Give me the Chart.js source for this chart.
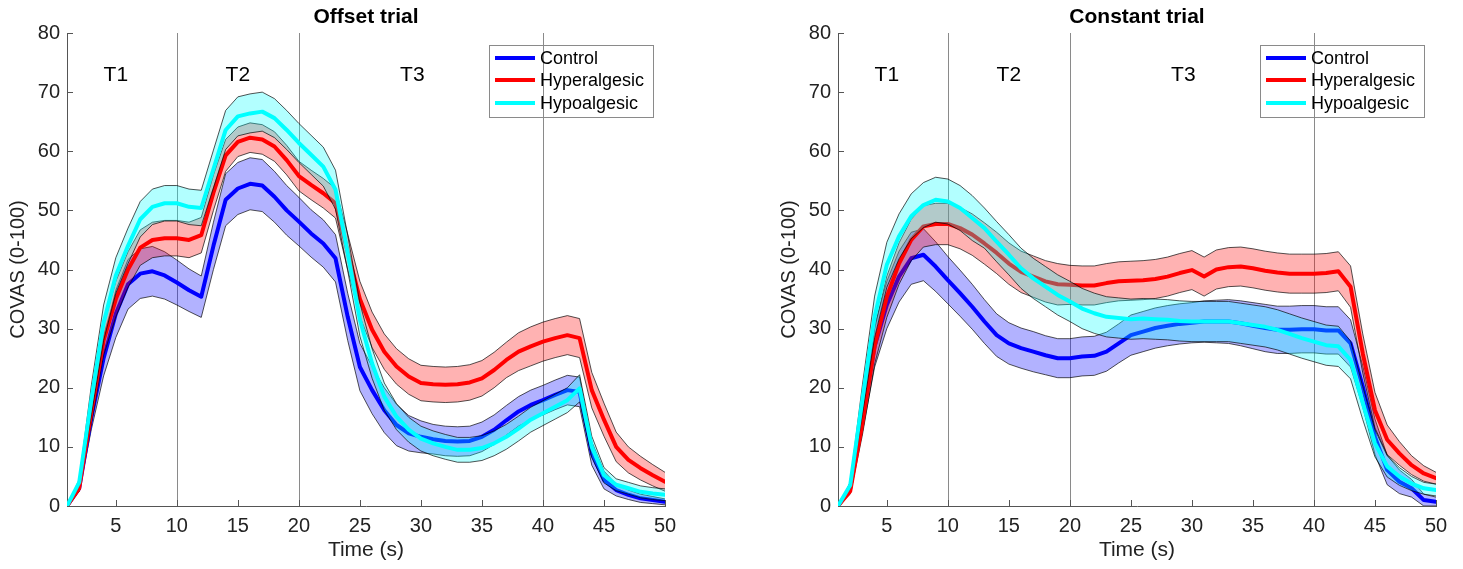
<!DOCTYPE html>
<html>
<head>
<meta charset="utf-8">
<script src="https://cdn.jsdelivr.net/npm/chart.js@4.4.1/dist/chart.umd.min.js"></script>
<style>
  html, body { margin: 0; padding: 0; background: #fff; }
  #wrap { position: relative; width: 1463px; height: 569px; overflow: hidden; }
  .panel { position: absolute; top: 0; }
</style>
</head>
<body>
<div id="wrap">
  <div class="panel" style="left:0px"><canvas id="offset-chart" width="720" height="569"></canvas></div>
  <div class="panel" style="left:771px"><canvas id="constant-chart" width="692" height="569"></canvas></div>
</div>
<script>
const FONT = "'Liberation Sans', Arial, Helvetica, sans-serif";

// Time axis (s) and tick labels
const times = [1, 2, 3, 4, 5, 6, 7, 8, 9, 10, 11, 12, 13, 14, 15, 16, 17, 18, 19, 20,
  21, 22, 23, 24, 25, 26, 27, 28, 29, 30, 31, 32, 33, 34, 35, 36, 37, 38, 39, 40,
  41, 42, 43, 44, 45, 46, 47, 48, 49, 50];
const xTicks = [5, 10, 15, 20, 25, 30, 35, 40, 45, 50];

// Phase boundaries and labels
const phaseLines = [10, 20, 40];
const phaseNames = ['T1', 'T2', 'T3'];
const phaseLabelX = [5, 15, 29.3];

const groupNames = ['Control', 'Hyperalgesic', 'Hypoalgesic'];
const groupColors = ['#0000ff', '#ff0000', '#00ffff'];
const bandColors = ['rgba(0,0,255,0.3)', 'rgba(255,0,0,0.3)', 'rgba(0,255,255,0.3)'];

// Offset trial: group means and SEM half-widths
const offsetControl = [0, 3, 15, 25, 32.5, 37.5, 39.3, 39.7, 39, 37.8, 36.5, 35.4, 44, 51.8, 53.7, 54.5, 54.2, 52.3, 50, 48.1,
  46.1, 44.4, 41.9, 32, 23.5, 19.6, 16.2, 13.7, 12.3, 11.7, 11.3, 11, 10.9, 11, 11.7, 12.9, 14.5, 16, 17.1, 17.9,
  18.8, 19.6, 19.3, 8.9, 4.4, 2.7, 1.9, 1.3, 1.0, 0.7];
const offsetControlSem = [0, 0.5, 2, 3, 4, 4.2, 4.2, 4.2, 4, 3.8, 3.6, 3.5, 4, 4.4, 4.4, 4.4, 4.4, 4.3, 4.2, 4.1,
  4, 4, 4, 4, 4, 4, 3.8, 3.5, 3, 2.7, 2.5, 2.5, 2.5, 2.5, 2.5, 2.5, 2.5, 2.5, 2.5, 2.5,
  2.5, 2.5, 2.5, 2, 1.5, 1, 0.8, 0.7, 0.6, 0.5];
const offsetHyper = [0, 3, 16, 28, 35, 40, 43.7, 45, 45.3, 45.3, 45, 45.8, 53, 59.3, 61.6, 62.3, 62, 60.8, 58.5, 55.8,
  54.3, 52.9, 51.2, 43, 35, 29.8, 26.1, 23.6, 21.9, 20.8, 20.6, 20.5, 20.6, 20.9, 21.6, 23, 24.7, 26.1, 27, 27.8,
  28.4, 28.9, 28.4, 19.6, 14.6, 10, 7.8, 6.4, 5.2, 4.1];
const offsetHyperSem = [0, 0.5, 2, 2.5, 3, 3, 3, 3, 3, 3, 3, 3, 3, 2.7, 2.5, 2.5, 2.5, 2.5, 2.5, 2.5,
  2.5, 2.5, 2.5, 3, 3, 3, 3, 3, 3, 3, 3, 3, 3, 3, 3, 3, 3, 3.2, 3.3, 3.3,
  3.3, 3.3, 3.3, 3, 2.8, 2.5, 2.2, 2, 1.8, 1.6];
const offsetHypo = [0, 4, 18, 31, 39, 44, 48.5, 50.6, 51.2, 51.2, 50.6, 50.4, 57, 63.6, 65.9, 66.4, 66.7, 65.6, 63.6, 61.4,
  59.4, 57.4, 53.5, 42.8, 31.5, 24.1, 18.5, 15.1, 12.9, 11.4, 10.6, 10, 9.5, 9.5, 9.8, 10.6, 11.7, 13.1, 14.6, 15.7,
  16.8, 17.9, 19.9, 10, 5.2, 3.6, 3, 2.4, 2.1, 1.9];
const offsetHypoSem = [0, 0.5, 2.5, 3, 3, 3, 3, 3, 3, 3, 3, 3, 3.2, 3.3, 3.3, 3.3, 3.3, 3.3, 3.3, 3.3,
  3.3, 3.3, 3.3, 3, 2.8, 2.5, 2.3, 2.2, 2.1, 2.1, 2.1, 2.1, 2.1, 2.1, 2.1, 2.1, 2.1, 2.1, 2.1, 2.1,
  2.1, 2.1, 2.3, 1.8, 1.3, 1, 1, 1, 1, 1];

// Constant trial: group means and SEM half-widths
const constantControl = [0, 3, 15, 27, 34, 38.8, 41.9, 42.5, 40.5, 38.2, 36, 33.7, 31.2, 28.9, 27.5, 26.7, 26.1, 25.5, 25, 25,
  25.3, 25.4, 26.1, 27.5, 28.9, 29.5, 30.1, 30.5, 30.8, 31, 31.2, 31.2, 31.2, 30.9, 30.5, 30.1, 29.8, 29.8, 29.9, 29.9,
  29.7, 29.7, 27.5, 20.2, 11.7, 6.1, 4.1, 3, 1, 0.7];
const constantControlSem = [0, 0.5, 2.5, 3.5, 4, 4.3, 4.4, 4.4, 4.2, 4, 3.9, 3.8, 3.7, 3.6, 3.5, 3.4, 3.4, 3.3, 3.3, 3.3,
  3.3, 3.3, 3.3, 3.3, 3.4, 3.4, 3.4, 3.4, 3.4, 3.4, 3.5, 3.6, 3.7, 3.8, 3.9, 4, 4, 4, 4, 4,
  4, 4, 4, 3.5, 3, 2.5, 2, 1.5, 1, 0.8];
const constantHyper = [0, 2.5, 14, 27, 35.4, 41, 45, 47.3, 47.7, 47.7, 47, 45.9, 44.4, 42.8, 41, 39.6, 38.8, 38, 37.5, 37.4,
  37.3, 37.3, 37.7, 38, 38.1, 38.2, 38.4, 38.8, 39.4, 39.9, 38.8, 40, 40.4, 40.5, 40.2, 39.8, 39.5, 39.3, 39.3, 39.3,
  39.4, 39.7, 37.1, 25.8, 16.2, 11.2, 8.9, 6.9, 5.5, 4.7];
const constantHyperSem = [0, 0.5, 2, 3, 3.5, 3.5, 3.5, 3.5, 3.5, 3.5, 3.5, 3.5, 3.5, 3.5, 3.5, 3.5, 3.5, 3.5, 3.5, 3.3,
  3.3, 3.3, 3.3, 3.3, 3.3, 3.3, 3.3, 3.3, 3.3, 3.3, 3.3, 3.3, 3.3, 3.3, 3.3, 3.3, 3.3, 3.3, 3.3, 3.3,
  3.3, 3.3, 3.5, 3.3, 3, 2.5, 2, 1.6, 1.3, 1];
const constantHypo = [0, 3.5, 18, 32, 40.8, 45.6, 49, 50.9, 51.8, 51.5, 50.4, 48.7, 47, 44.7, 42.5, 40.2, 38.5, 37.1, 35.7, 34.6,
  33.4, 32.6, 32, 31.8, 31.6, 31.7, 31.6, 31.5, 31.3, 31.2, 31.2, 31.2, 31.2, 30.9, 30.6, 30.3, 29.8, 29.1, 28.4, 27.8,
  27.2, 27, 24.7, 17.4, 10.6, 6.7, 5, 3.8, 3, 2.7];
const constantHypoSem = [0, 0.5, 2.5, 3.5, 3.8, 3.8, 3.8, 3.8, 3.8, 3.8, 3.8, 3.8, 3.4, 3.4, 3.4, 3.4, 3.4, 3.4, 3.4, 3.4,
  3.4, 3.4, 3.4, 3.4, 3.4, 3.4, 3.4, 3.4, 3.4, 3.4, 3.4, 3.4, 3.4, 3.4, 3.4, 3.4, 3.4, 3.4, 3.4, 3.4,
  3.4, 3.4, 3.2, 2.8, 2.3, 1.8, 1.5, 1.2, 1, 1];

function toPoints(values) {
    return times.map((t, i) => ({ x: t, y: values[i] }));
}

// MATLAB draws band, line, band, line... so later groups sit on top
function buildDatasets(means, sems) {
    const sets = [];
    means.forEach((mean, g) => {
        const sem = sems[g];
        const base = (means.length - 1 - g) * 2;
        sets.push({
            label: groupNames[g] + ' lower',
            data: toPoints(mean.map((v, i) => Math.max(0, v - sem[i]))),
            borderColor: 'rgba(0,0,0,0.85)',
            borderWidth: 0.8,
            pointRadius: 0,
            fill: false,
            order: base + 1
        });
        sets.push({
            label: groupNames[g] + ' upper',
            data: toPoints(mean.map((v, i) => v + sem[i])),
            borderColor: 'rgba(0,0,0,0.85)',
            borderWidth: 0.8,
            pointRadius: 0,
            backgroundColor: bandColors[g],
            fill: '-1',
            order: base + 1
        });
        sets.push({
            label: groupNames[g],
            data: toPoints(mean),
            borderColor: groupColors[g],
            borderWidth: 4,
            borderJoinStyle: 'round',
            borderCapStyle: 'round',
            pointRadius: 0,
            fill: false,
            order: base
        });
    });
    return sets;
}

const decorations = {
    id: 'decorations',
    beforeDatasetsDraw(chart) {
        const { ctx, chartArea } = chart;
        const xs = chart.scales.x;
        ctx.save();
        ctx.strokeStyle = '#8a8a8a';
        ctx.lineWidth = 1;
        phaseLines.forEach(v => {
            const px = Math.round(xs.getPixelForValue(v)) + 0.5;
            ctx.beginPath();
            ctx.moveTo(px, chartArea.top);
            ctx.lineTo(px, chartArea.bottom);
            ctx.stroke();
        });
        ctx.restore();
    },
    afterDraw(chart, args, opts) {
        const { ctx, chartArea } = chart;
        const xs = chart.scales.x;
        const ys = chart.scales.y;
        ctx.save();

        // inward ticks
        ctx.strokeStyle = '#555';
        ctx.lineWidth = 1;
        ys.ticks.forEach(t => {
            const py = Math.round(ys.getPixelForValue(t.value)) + 0.5;
            ctx.beginPath();
            ctx.moveTo(chartArea.left, py);
            ctx.lineTo(chartArea.left + 6, py);
            ctx.stroke();
        });
        xs.ticks.forEach(t => {
            const px = Math.round(xs.getPixelForValue(t.value)) + 0.5;
            ctx.beginPath();
            ctx.moveTo(px, chartArea.bottom);
            ctx.lineTo(px, chartArea.bottom - 6);
            ctx.stroke();
        });

        // title
        ctx.fillStyle = '#000';
        ctx.font = 'bold 21px ' + FONT;
        ctx.textAlign = 'center';
        ctx.textBaseline = 'middle';
        ctx.fillText(opts.title, (chartArea.left + chartArea.right) / 2, 17);

        // phase labels
        ctx.font = '21px ' + FONT;
        phaseNames.forEach((name, i) => {
            ctx.fillText(name, xs.getPixelForValue(phaseLabelX[i]), chartArea.top + 42);
        });

        // legend box
        const bx = chartArea.right - 176;
        const by = chartArea.top + 12;
        ctx.strokeStyle = '#8a8a8a';
        ctx.lineWidth = 1;
        ctx.strokeRect(bx + 0.5, by + 0.5, 164, 72);
        ctx.font = '18px ' + FONT;
        ctx.textAlign = 'left';
        const rows = [13, 35, 58];
        groupNames.forEach((name, g) => {
            ctx.strokeStyle = groupColors[g];
            ctx.lineWidth = 4;
            ctx.beginPath();
            ctx.moveTo(bx + 6, by + rows[g]);
            ctx.lineTo(bx + 46, by + rows[g]);
            ctx.stroke();
            ctx.fillStyle = '#000';
            ctx.fillText(name, bx + 51, by + rows[g] + 1);
        });
        ctx.restore();
    }
};

function makeChart(canvasId, title, means, sems, rightPad) {
    const ctx = document.getElementById(canvasId).getContext('2d');
    return new Chart(ctx, {
        type: 'line',
        data: { datasets: buildDatasets(means, sems) },
        plugins: [decorations],
        options: {
            responsive: false,
            animation: false,
            layout: { padding: { top: 33, right: rightPad, left: 0, bottom: 0 } },
            plugins: {
                legend: { display: false },
                title: { display: false },
                tooltip: { enabled: false },
                decorations: { title: title }
            },
            scales: {
                x: {
                    type: 'linear',
                    min: 1,
                    max: 50,
                    afterBuildTicks: scale => {
                        scale.ticks = xTicks.map(v => ({ value: v }));
                    },
                    afterFit: scale => { scale.height = 63; },
                    grid: { display: false, drawTicks: false },
                    border: { display: true, color: '#555', width: 1 },
                    ticks: {
                        font: { family: FONT, size: 20 },
                        color: '#222',
                        padding: 8,
                        maxRotation: 0,
                        autoSkip: false
                    },
                    title: {
                        display: true,
                        text: 'Time (s)',
                        font: { family: FONT, size: 21 },
                        color: '#222',
                        padding: { top: 0, bottom: 6 }
                    }
                },
                y: {
                    min: 0,
                    max: 80,
                    afterFit: scale => { scale.width = 67; },
                    grid: { display: false, drawTicks: false },
                    border: { display: true, color: '#555', width: 1 },
                    ticks: {
                        stepSize: 10,
                        font: { family: FONT, size: 20 },
                        color: '#222',
                        padding: 7
                    },
                    title: {
                        display: true,
                        text: 'COVAS (0-100)',
                        font: { family: FONT, size: 20 },
                        color: '#222',
                        padding: { top: 6, bottom: 0 }
                    }
                }
            }
        }
    });
}

makeChart('offset-chart', 'Offset trial',
    [offsetControl, offsetHyper, offsetHypo],
    [offsetControlSem, offsetHyperSem, offsetHypoSem], 55);

makeChart('constant-chart', 'Constant trial',
    [constantControl, constantHyper, constantHypo],
    [constantControlSem, constantHyperSem, constantHypoSem], 27);
</script>
</body>
</html>
